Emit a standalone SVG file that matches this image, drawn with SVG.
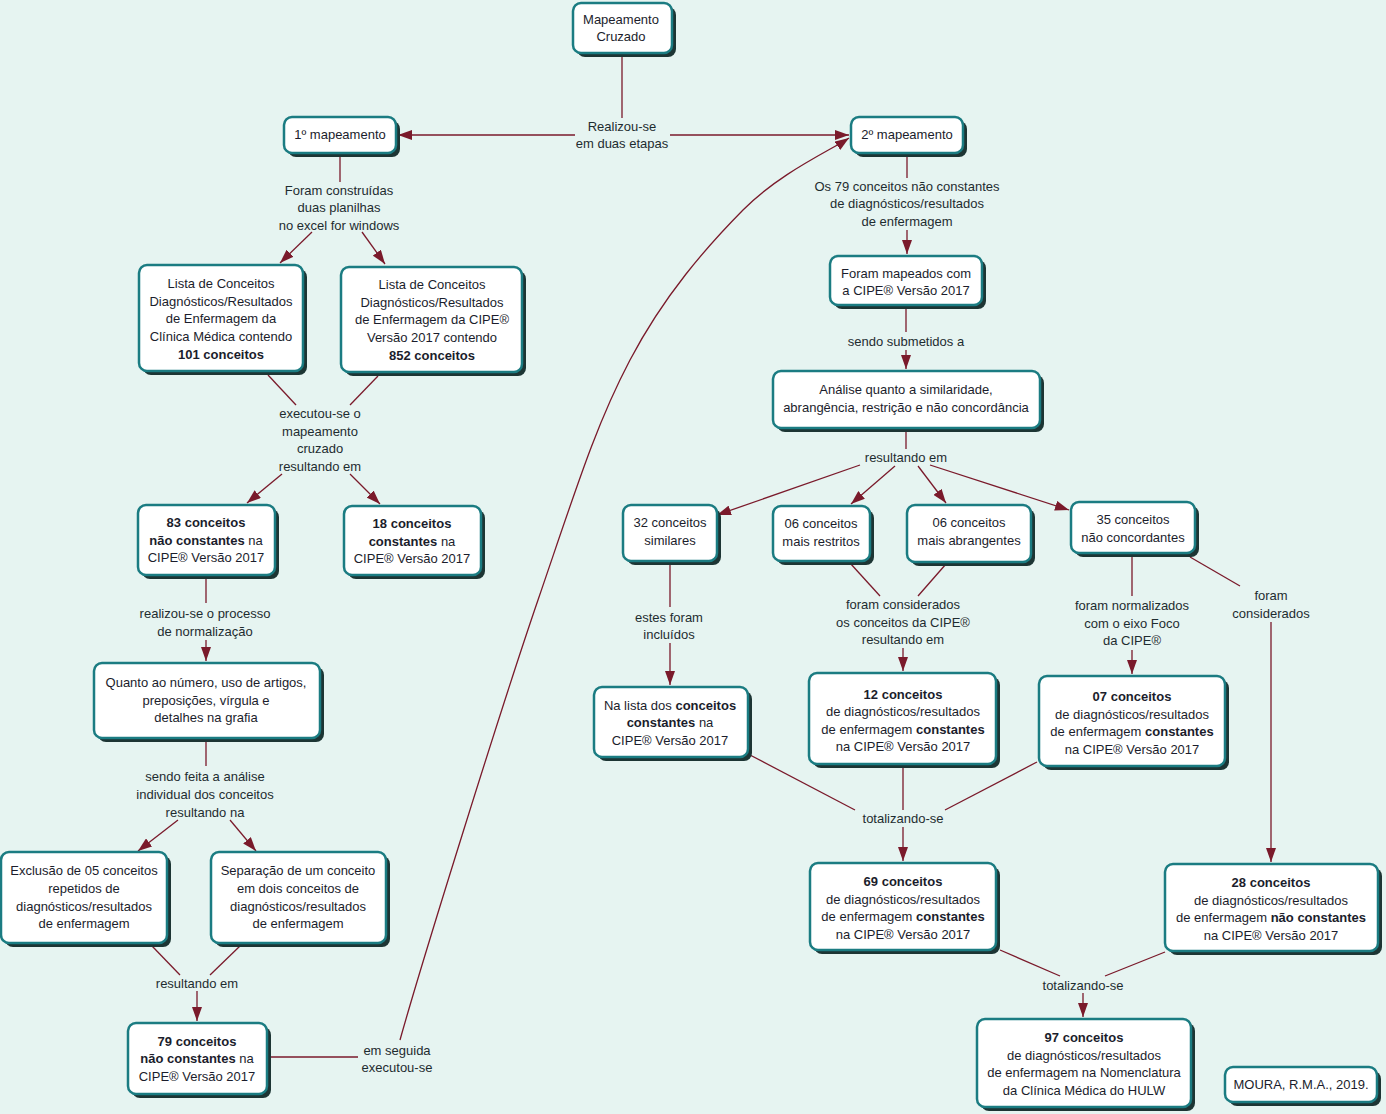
<svg xmlns="http://www.w3.org/2000/svg" width="1386" height="1114" viewBox="0 0 1386 1114">
<defs>
<style>
.sh{fill:#1d3534}
.bx{fill:#ffffff;stroke:#1b7c82;stroke-width:2.5}
.t{font-family:"Liberation Sans",Arial,sans-serif;font-size:13px;fill:#1b1d2c;text-anchor:middle}
.l{font-family:"Liberation Sans",Arial,sans-serif;font-size:13px;fill:#1e2c30;text-anchor:middle}
.b{font-weight:bold}
.c{fill:none;stroke:#7a1a2b;stroke-width:1.3}
.a{marker-end:url(#ar)}
</style>
<marker id="ar" viewBox="0 0 14 10" refX="14" refY="5" markerWidth="14" markerHeight="10" markerUnits="userSpaceOnUse" orient="auto">
<path d="M0,0 L14,5 L0,10 z" fill="#7a1a2b"/>
</marker>
</defs>
<rect width="1386" height="1114" fill="#e6f4f1"/>

<g id="connectors">
<path class="c" d="M622,55 V118"/>
<path class="c a" d="M575,135 H398"/>
<path class="c a" d="M670,135 H849"/>
<path class="c" d="M340,157 V182"/>
<path class="c a" d="M312,232 L280,263"/>
<path class="c a" d="M362,232 L385,264"/>
<path class="c" d="M268,375 L296,405"/>
<path class="c" d="M378,376 L350,405"/>
<path class="c a" d="M282,474 L247,503"/>
<path class="c a" d="M350,474 L380,504"/>
<path class="c" d="M206,579 V603"/>
<path class="c a" d="M206,640 V661"/>
<path class="c" d="M206,742 V766"/>
<path class="c a" d="M178,820 L138,851"/>
<path class="c a" d="M230,820 L256,851"/>
<path class="c" d="M152,946 L180,975"/>
<path class="c" d="M240,946 L210,975"/>
<path class="c a" d="M197,991 V1021"/>
<path class="c" d="M270,1057 H358"/>
<path class="c a" d="M400,1040 C420.5,966.7 499.2,713.3 538,600 C576.8,486.7 595.8,425 630,360 C664.2,295 706.5,247 743,210 C779.5,173 831.3,150 849,138"/>
<path class="c" d="M907,157 V178"/>
<path class="c a" d="M907,230 V254"/>
<path class="c" d="M906,309 V332"/>
<path class="c a" d="M906,350 V369"/>
<path class="c" d="M906,432 V449"/>
<path class="c a" d="M860,465 L717,515"/>
<path class="c a" d="M895,466 L851,504"/>
<path class="c a" d="M918,466 L946,503"/>
<path class="c a" d="M930,465 L1069,510"/>
<path class="c" d="M670,563 V607"/>
<path class="c a" d="M670,643 V685"/>
<path class="c" d="M850,563 L880,596"/>
<path class="c" d="M946,564 L918,596"/>
<path class="c a" d="M903,648 V671"/>
<path class="c" d="M1132,557 V596"/>
<path class="c a" d="M1132,650 V674"/>
<path class="c" d="M1190,557 L1240,586"/>
<path class="c a" d="M1271,622 V862"/>
<path class="c" d="M750,755 L855,810"/>
<path class="c" d="M903,767 V810"/>
<path class="c" d="M1037,762 L945,810"/>
<path class="c a" d="M903,827 V861"/>
<path class="c" d="M1000,950 L1060,976"/>
<path class="c" d="M1165,952 L1105,976"/>
<path class="c a" d="M1083,993 V1017"/>
</g>

<g id="labels">
<text class="l"><tspan x="622" y="130.5">Realizou-se</tspan><tspan x="622" y="148">em duas etapas</tspan></text>
<text class="l"><tspan x="339" y="194.5">Foram construídas</tspan><tspan x="339" y="212">duas planilhas</tspan><tspan x="339" y="229.5">no excel for windows</tspan></text>
<text class="l"><tspan x="320" y="417.5">executou-se o</tspan><tspan x="320" y="435.5">mapeamento</tspan><tspan x="320" y="452.5">cruzado</tspan><tspan x="320" y="470.5">resultando em</tspan></text>
<text class="l"><tspan x="205" y="617.5">realizou-se o processo</tspan><tspan x="205" y="635.5">de normalização</tspan></text>
<text class="l"><tspan x="205" y="780.5">sendo feita a análise</tspan><tspan x="205" y="798.5">individual dos conceitos</tspan><tspan x="205" y="816.5">resultando na</tspan></text>
<text class="l"><tspan x="197" y="987.5">resultando em</tspan></text>
<text class="l"><tspan x="397" y="1054.5">em seguida</tspan><tspan x="397" y="1071.5">executou-se</tspan></text>
<text class="l"><tspan x="907" y="190.5">Os 79 conceitos não constantes</tspan><tspan x="907" y="207.5">de diagnósticos/resultados</tspan><tspan x="907" y="225.5">de enfermagem</tspan></text>
<text class="l"><tspan x="906" y="345.5">sendo submetidos a</tspan></text>
<text class="l"><tspan x="906" y="461.5">resultando em</tspan></text>
<text class="l"><tspan x="669" y="621.5">estes foram</tspan><tspan x="669" y="638.5">incluídos</tspan></text>
<text class="l"><tspan x="903" y="608.5">foram considerados</tspan><tspan x="903" y="626.5">os conceitos da CIPE®</tspan><tspan x="903" y="643.5">resultando em</tspan></text>
<text class="l"><tspan x="1132" y="609.5">foram normalizados</tspan><tspan x="1132" y="627.5">com o eixo Foco</tspan><tspan x="1132" y="644.5">da CIPE®</tspan></text>
<text class="l"><tspan x="1271" y="599.5">foram</tspan><tspan x="1271" y="617.5">considerados</tspan></text>
<text class="l"><tspan x="903" y="822.5">totalizando-se</tspan></text>
<text class="l"><tspan x="1083" y="989.5">totalizando-se</tspan></text>
</g>

<g id="n1"><rect class="sh" x="577" y="7" width="99" height="50" rx="8"/><rect class="bx" x="573" y="3" width="99" height="50" rx="8"/>
<text class="t"><tspan x="621" y="23.5">Mapeamento</tspan><tspan x="621" y="40.5">Cruzado</tspan></text></g>

<g id="n2"><rect class="sh" x="288" y="121" width="112" height="36" rx="8"/><rect class="bx" x="284" y="117" width="112" height="36" rx="8"/>
<text class="t"><tspan x="340" y="139">1º mapeamento</tspan></text></g>

<g id="n3"><rect class="sh" x="855" y="121" width="112" height="36" rx="8"/><rect class="bx" x="851" y="117" width="112" height="36" rx="8"/>
<text class="t"><tspan x="907" y="139">2º mapeamento</tspan></text></g>

<g id="n4"><rect class="sh" x="143" y="269" width="164" height="106" rx="8"/><rect class="bx" x="139" y="265" width="164" height="106" rx="8"/>
<text class="t"><tspan x="221" y="288">Lista de Conceitos</tspan><tspan x="221" y="306">Diagnósticos/Resultados</tspan><tspan x="221" y="323">de Enfermagem da</tspan><tspan x="221" y="341">Clínica Médica contendo</tspan><tspan x="221" y="359" class="b">101 conceitos</tspan></text></g>

<g id="n5"><rect class="sh" x="345" y="271" width="181" height="105" rx="8"/><rect class="bx" x="341" y="267" width="181" height="105" rx="8"/>
<text class="t"><tspan x="432" y="289">Lista de Conceitos</tspan><tspan x="432" y="307">Diagnósticos/Resultados</tspan><tspan x="432" y="324">de Enfermagem da CIPE®</tspan><tspan x="432" y="342">Versão 2017 contendo</tspan><tspan x="432" y="360" class="b">852 conceitos</tspan></text></g>

<g id="n6"><rect class="sh" x="142" y="509" width="137" height="70" rx="8"/><rect class="bx" x="138" y="505" width="137" height="70" rx="8"/>
<text class="t"><tspan x="206" y="527" class="b">83 conceitos</tspan><tspan x="206" y="545"><tspan class="b">não constantes</tspan> na</tspan><tspan x="206" y="562">CIPE® Versão 2017</tspan></text></g>

<g id="n7"><rect class="sh" x="348" y="510" width="137" height="69" rx="8"/><rect class="bx" x="344" y="506" width="137" height="69" rx="8"/>
<text class="t"><tspan x="412" y="528" class="b">18 conceitos</tspan><tspan x="412" y="546"><tspan class="b">constantes</tspan> na</tspan><tspan x="412" y="563">CIPE® Versão 2017</tspan></text></g>

<g id="n8"><rect class="sh" x="98" y="667" width="226" height="75" rx="8"/><rect class="bx" x="94" y="663" width="226" height="75" rx="8"/>
<text class="t"><tspan x="206" y="687">Quanto ao número, uso de artigos,</tspan><tspan x="206" y="705">preposições, vírgula e</tspan><tspan x="206" y="722">detalhes na grafia</tspan></text></g>

<g id="n9"><rect class="sh" x="5" y="856" width="166" height="91" rx="8"/><rect class="bx" x="1" y="852" width="166" height="91" rx="8"/>
<text class="t"><tspan x="84" y="875">Exclusão de 05 conceitos</tspan><tspan x="84" y="893">repetidos de</tspan><tspan x="84" y="911">diagnósticos/resultados</tspan><tspan x="84" y="928">de enfermagem</tspan></text></g>

<g id="n10"><rect class="sh" x="215" y="856" width="175" height="91" rx="8"/><rect class="bx" x="211" y="852" width="175" height="91" rx="8"/>
<text class="t"><tspan x="298" y="875">Separação de um conceito</tspan><tspan x="298" y="893">em dois conceitos de</tspan><tspan x="298" y="911">diagnósticos/resultados</tspan><tspan x="298" y="928">de enfermagem</tspan></text></g>

<g id="n11"><rect class="sh" x="132" y="1027" width="139" height="71" rx="8"/><rect class="bx" x="128" y="1023" width="139" height="71" rx="8"/>
<text class="t"><tspan x="197" y="1046" class="b">79 conceitos</tspan><tspan x="197" y="1063"><tspan class="b">não constantes</tspan> na</tspan><tspan x="197" y="1081">CIPE® Versão 2017</tspan></text></g>

<g id="n12"><rect class="sh" x="834" y="260" width="152" height="49" rx="8"/><rect class="bx" x="830" y="256" width="152" height="49" rx="8"/>
<text class="t"><tspan x="906" y="278">Foram mapeados com</tspan><tspan x="906" y="295">a CIPE® Versão 2017</tspan></text></g>

<g id="n13"><rect class="sh" x="777" y="375" width="267" height="57" rx="8"/><rect class="bx" x="773" y="371" width="267" height="57" rx="8"/>
<text class="t"><tspan x="906" y="394">Análise quanto a similaridade,</tspan><tspan x="906" y="412">abrangência, restrição e não concordância</tspan></text></g>

<g id="n14"><rect class="sh" x="627" y="509" width="94" height="56" rx="8"/><rect class="bx" x="623" y="505" width="94" height="56" rx="8"/>
<text class="t"><tspan x="670" y="527">32 conceitos</tspan><tspan x="670" y="545">similares</tspan></text></g>

<g id="n15"><rect class="sh" x="777" y="510" width="97" height="55" rx="8"/><rect class="bx" x="773" y="506" width="97" height="55" rx="8"/>
<text class="t"><tspan x="821" y="528">06 conceitos</tspan><tspan x="821" y="546">mais restritos</tspan></text></g>

<g id="n16"><rect class="sh" x="911" y="509" width="124" height="57" rx="8"/><rect class="bx" x="907" y="505" width="124" height="57" rx="8"/>
<text class="t"><tspan x="969" y="527">06 conceitos</tspan><tspan x="969" y="545">mais abrangentes</tspan></text></g>

<g id="n17"><rect class="sh" x="1075" y="506" width="124" height="51" rx="8"/><rect class="bx" x="1071" y="502" width="124" height="51" rx="8"/>
<text class="t"><tspan x="1133" y="524">35 conceitos</tspan><tspan x="1133" y="542">não concordantes</tspan></text></g>

<g id="n18"><rect class="sh" x="598" y="691" width="154" height="70" rx="8"/><rect class="bx" x="594" y="687" width="154" height="70" rx="8"/>
<text class="t"><tspan x="670" y="710">Na lista dos <tspan class="b">conceitos</tspan></tspan><tspan x="670" y="727"><tspan class="b">constantes</tspan> na</tspan><tspan x="670" y="745">CIPE® Versão 2017</tspan></text></g>

<g id="n19"><rect class="sh" x="813" y="677" width="187" height="91" rx="8"/><rect class="bx" x="809" y="673" width="187" height="91" rx="8"/>
<text class="t"><tspan x="903" y="699" class="b">12 conceitos</tspan><tspan x="903" y="716">de diagnósticos/resultados</tspan><tspan x="903" y="734">de enfermagem <tspan class="b">constantes</tspan></tspan><tspan x="903" y="751">na CIPE® Versão 2017</tspan></text></g>

<g id="n20"><rect class="sh" x="1043" y="680" width="186" height="90" rx="8"/><rect class="bx" x="1039" y="676" width="186" height="90" rx="8"/>
<text class="t"><tspan x="1132" y="701" class="b">07 conceitos</tspan><tspan x="1132" y="719">de diagnósticos/resultados</tspan><tspan x="1132" y="736">de enfermagem <tspan class="b">constantes</tspan></tspan><tspan x="1132" y="754">na CIPE® Versão 2017</tspan></text></g>

<g id="n21"><rect class="sh" x="814" y="867" width="186" height="87" rx="8"/><rect class="bx" x="810" y="863" width="186" height="87" rx="8"/>
<text class="t"><tspan x="903" y="886" class="b">69 conceitos</tspan><tspan x="903" y="904">de diagnósticos/resultados</tspan><tspan x="903" y="921">de enfermagem <tspan class="b">constantes</tspan></tspan><tspan x="903" y="939">na CIPE® Versão 2017</tspan></text></g>

<g id="n22"><rect class="sh" x="1169" y="868" width="213" height="87" rx="8"/><rect class="bx" x="1165" y="864" width="213" height="87" rx="8"/>
<text class="t"><tspan x="1271" y="887" class="b">28 conceitos</tspan><tspan x="1271" y="905">de diagnósticos/resultados</tspan><tspan x="1271" y="922">de enfermagem <tspan class="b">não constantes</tspan></tspan><tspan x="1271" y="940">na CIPE® Versão 2017</tspan></text></g>

<g id="n23"><rect class="sh" x="981" y="1023" width="214" height="88" rx="8"/><rect class="bx" x="977" y="1019" width="214" height="88" rx="8"/>
<text class="t"><tspan x="1084" y="1042" class="b">97 conceitos</tspan><tspan x="1084" y="1060">de diagnósticos/resultados</tspan><tspan x="1084" y="1077">de enfermagem na Nomenclatura</tspan><tspan x="1084" y="1095">da Clínica Médica do HULW</tspan></text></g>

<g id="n24"><rect class="sh" x="1229" y="1071" width="152" height="35" rx="8"/><rect class="bx" x="1225" y="1067" width="152" height="35" rx="8"/>
<text class="t"><tspan x="1301" y="1089">MOURA, R.M.A., 2019.</tspan></text></g>
</svg>
